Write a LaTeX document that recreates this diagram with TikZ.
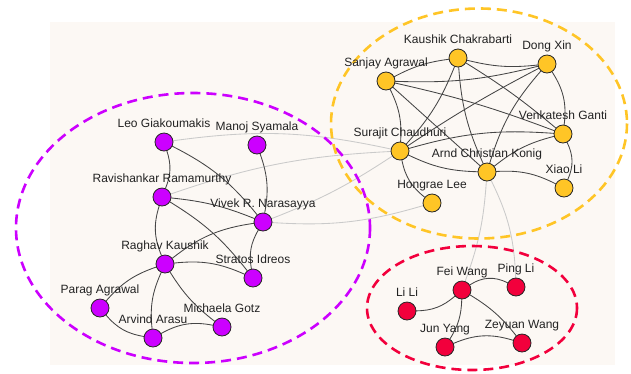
\documentclass[tikz,border=0pt]{standalone}
\usepackage{fontspec}
\setmainfont{Liberation Sans}
\definecolor{bgc}{HTML}{FCF8F4}
\definecolor{purp}{HTML}{CC00FF}
\definecolor{yel}{HTML}{FFC526}
\definecolor{redc}{HTML}{F2003C}
\definecolor{darkedge}{HTML}{454545}
\definecolor{lightedge}{HTML}{CACACA}
\definecolor{txt}{HTML}{222222}
\tikzset{
  pnode/.style={circle, minimum size=18pt, inner sep=0pt, draw=black!85, line width=0.8pt, fill=purp},
  ynode/.style={circle, minimum size=18pt, inner sep=0pt, draw=black!85, line width=0.8pt, fill=yel},
  rnode/.style={circle, minimum size=18pt, inner sep=0pt, draw=black!85, line width=0.8pt, fill=redc},
  anchornode/.style={circle, minimum size=18pt, inner sep=0pt},
  lbl/.style={anchor=base, inner sep=0pt, text=txt, font=\fontsize{12}{14}\selectfont},
  intra/.style={draw=darkedge, line width=0.85pt},
  inter/.style={draw=lightedge, line width=0.85pt},
  cluster/.style={line width=2.6pt, dash pattern=on 10pt off 6pt},
}
\begin{document}
\begin{tikzpicture}[x=1pt,y=-1pt]
\useasboundingbox (0,0) rectangle (631,373);
\fill[white] (0,0) rectangle (631,373);
\fill[bgc] (50,22) rectangle (615,365);

% node positions (invisible anchors; circles drawn on top later)
\node[anchornode] (leo) at (164,142) {};
\node[anchornode] (manoj) at (257,145) {};
\node[anchornode] (ravi) at (162,197) {};
\node[anchornode] (vivek) at (263,222) {};
\node[anchornode] (raghav) at (165,264) {};
\node[anchornode] (stratos) at (253,278) {};
\node[anchornode] (parag) at (100,308) {};
\node[anchornode] (arvind) at (153,338) {};
\node[anchornode] (michaela) at (222,327) {};
\node[anchornode] (kaushik) at (458,58) {};
\node[anchornode] (dong) at (547,64) {};
\node[anchornode] (sanjay) at (386,81) {};
\node[anchornode] (venkatesh) at (563,134) {};
\node[anchornode] (surajit) at (400,151) {};
\node[anchornode] (arnd) at (487,172) {};
\node[anchornode] (xiao) at (564,188) {};
\node[anchornode] (hongrae) at (432,203) {};
\node[anchornode] (fei) at (462,290) {};
\node[anchornode] (ping) at (516,287) {};
\node[anchornode] (lili) at (407,311) {};
\node[anchornode] (jun) at (445,347) {};
\node[anchornode] (zeyuan) at (522,343) {};

% inter-cluster edges
\draw[inter] (leo) to[bend left=10] (surajit);
\draw[inter] (ravi) to[bend left=8] (surajit);
\draw[inter] (vivek) to[bend right=6] (surajit);
\draw[inter] (vivek) to[bend right=10] (hongrae);
\draw[inter] (arnd) to[bend left=8] (fei);
\draw[inter] (arnd) to[bend left=12] (ping);

% purple cluster edges
\draw[intra] (leo) to[bend left=20] (ravi);
\draw[intra] (leo) to[bend left=12] (vivek);
\draw[intra] (manoj) to[bend left=15] (vivek);
\draw[intra] (ravi) to[bend left=8] (vivek);
\draw[intra] (ravi) to[bend right=20] (raghav);
\draw[intra] (ravi) to[bend left=10] (stratos);
\draw[intra] (raghav) to[bend left=15] (vivek);
\draw[intra] (vivek) to[bend right=20] (stratos);
\draw[intra] (raghav) to[bend left=15] (stratos);
\draw[intra] (raghav) to[bend right=15] (parag);
\draw[intra] (raghav) to[bend right=15] (arvind);
\draw[intra] (raghav) to[bend right=10] (michaela);
\draw[intra] (parag) to[bend right=20] (arvind);
\draw[intra] (arvind) to[bend left=20] (michaela);

% yellow cluster edges
\draw[intra] (sanjay) to[bend left=10] (kaushik);
\draw[intra] (sanjay) to[bend right=8] (dong);
\draw[intra] (kaushik) to[bend right=10] (dong);
\draw[intra] (kaushik) to[bend left=4] (venkatesh);
\draw[intra] (sanjay) to[bend left=4] (venkatesh);
\draw[intra] (sanjay) to[bend left=15] (surajit);
\draw[intra] (sanjay) to (arnd);
\draw[intra] (kaushik) to[bend left=10] (surajit);
\draw[intra] (kaushik) to[bend right=10] (arnd);
\draw[intra] (dong) to[bend right=3] (surajit);
\draw[intra] (dong) to[bend right=12] (arnd);
\draw[intra] (dong) to[bend left=20] (venkatesh);
\draw[intra] (surajit) to[bend left=10] (venkatesh);
\draw[intra] (arnd) to[bend left=12] (venkatesh);
\draw[intra] (venkatesh) to[bend left=25] (xiao);
\draw[intra] (surajit) to[bend right=12] (arnd);
\draw[intra] (arnd) to[bend left=15] (xiao);
\draw[intra] (surajit) to[bend right=20] (hongrae);

% red cluster edges
\draw[intra] (fei) to[bend left=30] (ping);
\draw[intra] (lili) to[bend right=20] (fei);
\draw[intra] (fei) to[bend left=15] (jun);
\draw[intra] (fei) to[bend left=10] (zeyuan);
\draw[intra] (jun) to[bend left=20] (zeyuan);

% cluster ellipses
\draw[cluster, draw=purp] (193,228) ellipse [x radius=177, y radius=135];
\draw[cluster, draw=yel] (479,123.5) ellipse [x radius=148, y radius=115];
\draw[cluster, draw=redc] (472,308) ellipse [x radius=105, y radius=62];

% visible nodes
\foreach \n in {leo,manoj,ravi,vivek,raghav,stratos,parag,arvind,michaela}
  \node[pnode] at (\n.center) {};
\foreach \n in {kaushik,dong,sanjay,venkatesh,surajit,arnd,xiao,hongrae}
  \node[ynode] at (\n.center) {};
\foreach \n in {fei,ping,lili,jun,zeyuan}
  \node[rnode] at (\n.center) {};

% labels
\node[lbl] (leoL) at ([yshift=15pt]leo.center) {Leo Giakoumakis};
\node[lbl] (manojL) at ([yshift=15pt]manoj.center) {Manoj Syamala};
\node[lbl] (raviL) at ([yshift=15pt]ravi.center) {Ravishankar Ramamurthy};
\node[lbl] (vivekL) at ([yshift=15pt]vivek.center) {Vivek R. Narasayya};
\node[lbl] (raghavL) at ([yshift=15pt]raghav.center) {Raghav Kaushik};
\node[lbl] (stratosL) at ([yshift=15pt]stratos.center) {Stratos Idreos};
\node[lbl] (paragL) at ([yshift=15pt]parag.center) {Parag Agrawal};
\node[lbl] (arvindL) at ([yshift=15pt]arvind.center) {Arvind Arasu};
\node[lbl] (michaelaL) at ([yshift=15pt]michaela.center) {Michaela Gotz};
\node[lbl] (kaushikL) at ([yshift=15pt]kaushik.center) {Kaushik Chakrabarti};
\node[lbl] (dongL) at ([yshift=15pt]dong.center) {Dong Xin};
\node[lbl] (sanjayL) at ([yshift=15pt]sanjay.center) {Sanjay Agrawal};
\node[lbl] (venkateshL) at ([yshift=15pt]venkatesh.center) {Venkatesh Ganti};
\node[lbl] (surajitL) at ([yshift=15pt]surajit.center) {Surajit Chaudhuri};
\node[lbl] (arndL) at ([yshift=15pt]arnd.center) {Arnd Christian Konig};
\node[lbl] (xiaoL) at ([yshift=15pt]xiao.center) {Xiao Li};
\node[lbl] (hongraeL) at ([yshift=15pt]hongrae.center) {Hongrae Lee};
\node[lbl] (feiL) at ([yshift=15pt]fei.center) {Fei Wang};
\node[lbl] (pingL) at ([yshift=15pt]ping.center) {Ping Li};
\node[lbl] (liliL) at ([yshift=15pt]lili.center) {Li Li};
\node[lbl] (junL) at ([yshift=15pt]jun.center) {Jun Yang};
\node[lbl] (zeyuanL) at ([yshift=15pt]zeyuan.center) {Zeyuan Wang};
\end{tikzpicture}
\end{document}
